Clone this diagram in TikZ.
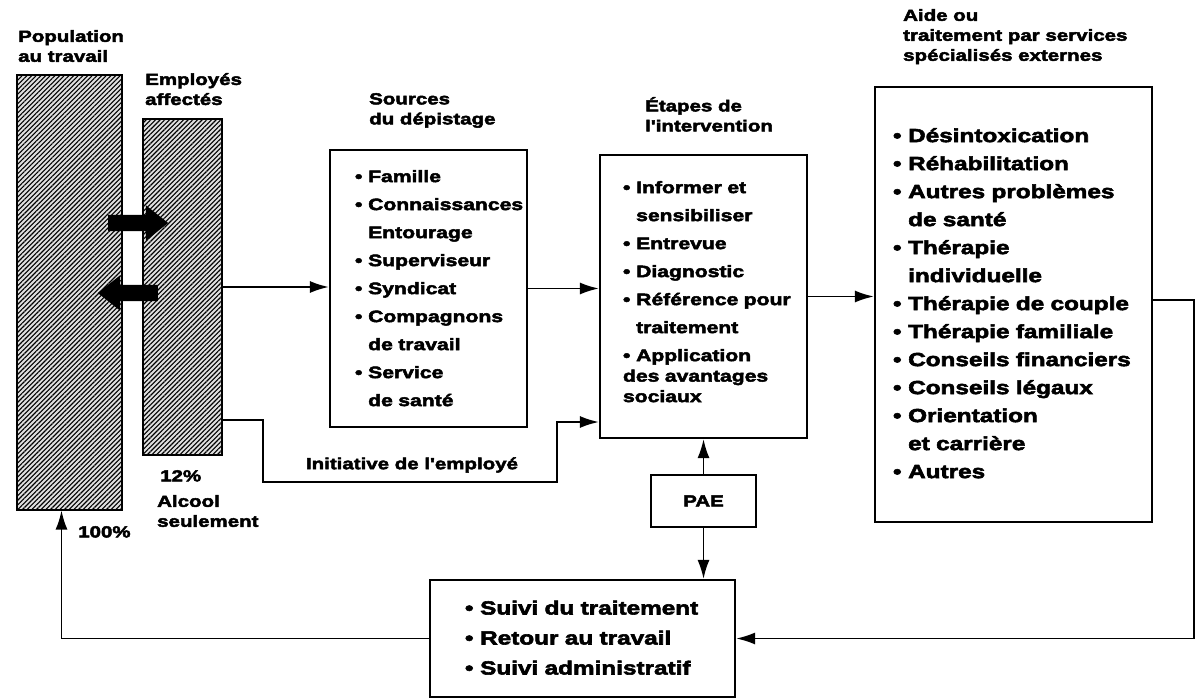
\documentclass[tikz,border=0pt]{standalone}
\usepackage{fontspec}
\newfontfamily\heavy{Liberation Sans}[UprightFeatures={FakeStretch=1.28},BoldFeatures={FakeStretch=1.28,FakeBold=3}]
\usetikzlibrary{arrows.meta,patterns.meta,shapes.arrows}
\newcommand{\bul}{•\hspace{0.35em}}
\newcommand{\ind}{\phantom{•}\hspace{0.35em}}

\begin{document}
\begin{tikzpicture}[x=1pt,y=-1pt,
    bar/.style={draw,line width=2.5pt,preaction={fill=gray!25},pattern={Lines[angle=45,distance=3.3pt,line width=1.1pt]}},
    box/.style={draw,line width=2.2pt,align=left,inner ysep=0pt},
    lbl/.style={inner sep=0pt,anchor=north west,align=left,font=\heavy\bfseries\fontsize{16}{20}\selectfont},
    txt/.style={font=\heavy\bfseries\fontsize{16.5}{28}\selectfont},
    big/.style={font=\heavy\bfseries\fontsize{19}{28}\selectfont},
    arr/.style={line width=1.8pt,-{Latex[length=19pt,width=12pt]}},
    fatarrow/.style={single arrow,fill=black,inner sep=8pt,minimum height=60pt,single arrow head extend=9.5pt,single arrow tip angle=77}]
        \useasboundingbox (0,0) rectangle (1196,700);

        \node[bar,minimum width=105pt,minimum height=435pt] (pop) at (69.5,292.5) {};
        \node[bar,minimum width=79pt,minimum height=336pt] (emp) at (182.5,287) {};
        \node[fatarrow] (entree) at (133,223) {};
        \node[fatarrow,shape border rotate=180] (sortie) at (133,293) {};

        \node[lbl] (poplbl) at (18,30) {Population\\au travail};
        \node[lbl] (emplbl) at (145,73) {Employés\\affectés};
        \node[lbl] (srclbl) at (369,93) {Sources\\du dépistage};
        \node[lbl] (etplbl) at (645,97) {Étapes de\\l'intervention};
        \node[lbl] (aidelbl) at (903,9) {Aide ou\\traitement par services\\spécialisés externes};
        \node[lbl] (pct12) at (160,470) {12\%};
        \node[lbl] (alcool) at (157,495) {Alcool\\seulement};
        \node[lbl] (pct100) at (78,526) {100\%};

        \node[box,txt,minimum width=197pt,minimum height=277pt,text width=147pt,inner xsep=25pt] (src) at (428.5,288.5)
            {\begin{tabular}{@{}l@{}}\bul Famille\\ \bul Connaissances\\ \ind Entourage\\ \bul Superviseur\\ \bul Syndicat\\ \bul Compagnons\\ \ind de travail\\ \bul Service\\ \ind de santé\end{tabular}};
        \node[box,font=\heavy\bfseries\fontsize{16.5}{20.5}\selectfont,minimum width=207pt,minimum height=283pt,text width=161pt,inner xsep=23pt] (etp) at (703.5,296.5)
            {\begin{tabular}{@{}l@{}}\bul Informer et\\[7.5pt] \ind sensibiliser\\[7.5pt] \bul Entrevue\\[7.5pt] \bul Diagnostic\\[7.5pt] \bul Référence pour\\[7.5pt] \ind traitement\\[7.5pt] \bul Application\\ des avantages\\ sociaux\\[6pt]\end{tabular}};
        \node[box,big,minimum width=277pt,minimum height=435pt,text width=241pt,inner xsep=18pt] (aide) at (1013.5,304.5)
            {\begin{tabular}{@{}l@{}}\bul Désintoxication\\ \bul Réhabilitation\\ \bul Autres problèmes\\ \ind de santé\\ \bul Thérapie\\ \ind individuelle\\ \bul Thérapie de couple\\ \bul Thérapie familiale\\ \bul Conseils financiers\\ \bul Conseils légaux\\ \bul Orientation\\ \ind et carrière\\ \bul Autres\end{tabular}};
        \node[box,font=\heavy\bfseries\fontsize{19}{30}\selectfont,minimum width=305pt,minimum height=117pt,text width=235pt,inner xsep=35pt] (suivi) at (582.5,638.5)
            {\begin{tabular}{@{}l@{}}\bul Suivi du traitement\\ \bul Retour au travail\\ \bul Suivi administratif\end{tabular}};
        \node[box,font=\heavy\bfseries\fontsize{16}{20}\selectfont,minimum width=105pt,minimum height=52pt] (pae) at (703.5,501) {PAE};
        \node[inner sep=0pt,font=\heavy\bfseries\fontsize{16}{20}\selectfont] (initiative) at (412,465) {Initiative de l'employé};

        \coordinate (rim) at (1194,300);
        \coordinate (ini1) at (263,482);
        \coordinate (ini2) at (557,482);

        \draw[arr] (emp.east) -- (emp.east -| src.west);
        \draw[arr] (src.east) -- (src.east -| etp.west);
        \draw[arr] (etp.east) -- (etp.east -| aide.west);
        \draw[arr] (aide.east |- rim) -- (rim) |- (suivi.east);
        \draw[arr] (suivi.west) -| ([xshift=-8pt]pop.south);
        \draw[arr] (pae.north) -- (etp.south);
        \draw[arr] (pae.south) -- (pae.south |- suivi.north);
        \draw[arr] ([yshift=-133pt]emp.east) -| (ini1) -| (ini2) |- ([yshift=-125.5pt]etp.west);
    \end{tikzpicture}
\end{document}
